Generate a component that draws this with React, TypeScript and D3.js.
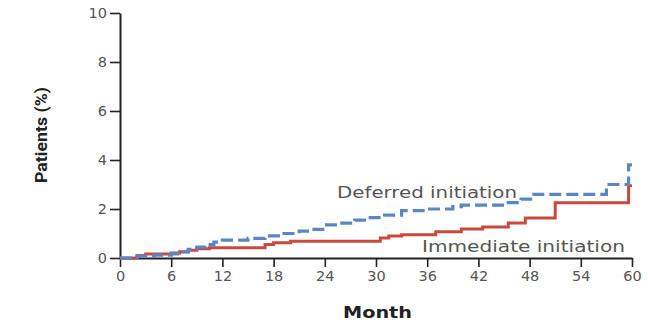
import React, { useRef, useEffect } from "react";
import * as d3 from "d3";

// cumulative incidence, step points (month, %)
const immediateMonths = [0, 2, 3, 6, 7, 8, 9, 10.5, 17, 18, 20, 30.5, 31.5, 33, 37, 40, 42.5, 45.5, 47.5, 51, 59.6, 60];
const immediatePct = [0, 0.1, 0.16, 0.2, 0.26, 0.32, 0.38, 0.42, 0.55, 0.62, 0.68, 0.82, 0.9, 0.95, 1.07, 1.18, 1.27, 1.43, 1.63, 2.26, 2.95, 2.95];

const deferredMonths = [0, 2, 4, 6, 7, 8, 9, 10, 11, 12, 15, 17, 19, 21, 22.5, 24, 26, 27.5, 29, 31, 33, 36, 39, 40, 45.5, 47, 48.5, 57, 59.6, 60];
const deferredPct = [0, 0.08, 0.12, 0.17, 0.25, 0.35, 0.45, 0.55, 0.65, 0.73, 0.8, 0.9, 1.0, 1.1, 1.17, 1.35, 1.42, 1.55, 1.65, 1.75, 1.93, 2.0, 2.1, 2.16, 2.26, 2.4, 2.6, 3.0, 3.8, 3.8];

const xTicks = [0, 6, 12, 18, 24, 30, 36, 42, 48, 54, 60];
const yTicks = [0, 2, 4, 6, 8, 10];

const width = 648;
const height = 325;
const font = "'DejaVu Sans', sans-serif";

const App = () => {
  const svgRef = useRef(null);

  useEffect(() => {
    const svg = d3.select(svgRef.current);
    svg.selectAll("*").remove();

    const x = d3.scaleLinear().domain([0, 60]).range([120, 632]);
    const y = d3.scaleLinear().domain([0, 10]).range([258, 13]);

    // y axis
    const yAxis = svg
      .append("g")
      .attr("transform", "translate(120,0)")
      .call(d3.axisLeft(y).tickValues(yTicks).tickSize(10).tickPadding(3).tickSizeOuter(0));
    yAxis.select(".domain").attr("stroke", "#222").attr("stroke-width", 2);
    yAxis.selectAll(".tick line").attr("stroke", "#222").attr("stroke-width", 1.6);
    yAxis
      .selectAll(".tick text")
      .attr("fill", "#555")
      .style("font-family", font)
      .style("font-size", "14.5px");

    // x axis
    const xAxis = svg
      .append("g")
      .attr("transform", "translate(0,258)")
      .call(d3.axisBottom(x).tickValues(xTicks).tickSize(9).tickPadding(4).tickSizeOuter(0));
    xAxis.select(".domain").attr("stroke", "#222").attr("stroke-width", 2);
    xAxis.selectAll(".tick line").attr("stroke", "#222").attr("stroke-width", 1.6);
    xAxis
      .selectAll(".tick text")
      .attr("fill", "#555")
      .style("font-family", font)
      .style("font-size", "14.5px");

    const line = d3
      .line()
      .x((d) => x(d[0]))
      .y((d) => y(d[1]))
      .curve(d3.curveStepAfter);

    const immediate = immediateMonths.map((m, i) => [m, immediatePct[i]]);
    const deferred = deferredMonths.map((m, i) => [m, deferredPct[i]]);

    svg
      .append("path")
      .datum(immediate)
      .attr("d", line)
      .attr("fill", "none")
      .attr("stroke", "#c9493d")
      .attr("stroke-width", 3);

    svg
      .append("path")
      .datum(deferred)
      .attr("d", line)
      .attr("fill", "none")
      .attr("stroke", "#5b86c6")
      .attr("stroke-width", 3.2)
      .attr("stroke-dasharray", "12,5");

    // labels
    svg
      .append("text")
      .attr("x", 337)
      .attr("y", 198)
      .attr("fill", "#555")
      .attr("textLength", 180)
      .attr("lengthAdjust", "spacingAndGlyphs")
      .style("font-family", font)
      .style("font-size", "16.5px")
      .text("Deferred initiation");

    svg
      .append("text")
      .attr("x", 422)
      .attr("y", 252)
      .attr("fill", "#555")
      .attr("textLength", 203)
      .attr("lengthAdjust", "spacingAndGlyphs")
      .style("font-family", font)
      .style("font-size", "16.5px")
      .text("Immediate initiation");

    svg
      .append("text")
      .attr("x", 343)
      .attr("y", 318)
      .attr("fill", "#222")
      .attr("textLength", 69)
      .attr("lengthAdjust", "spacingAndGlyphs")
      .style("font-family", font)
      .style("font-size", "16.5px")
      .style("font-weight", "bold")
      .text("Month");

    svg
      .append("text")
      .attr("transform", "translate(47,183) rotate(-90)")
      .attr("fill", "#222")
      .attr("textLength", 96)
      .attr("lengthAdjust", "spacingAndGlyphs")
      .style("font-family", "'Liberation Sans Narrow', 'Roboto', sans-serif")
      .style("font-size", "17px")
      .style("font-weight", "bold")
      .text("Patients (%)");
  }, []);

  return (
    <svg
      ref={svgRef}
      width={width}
      height={height}
      style={{ position: "absolute", left: 0, top: 0, background: "#fff" }}
    />
  );
};

export default App;
